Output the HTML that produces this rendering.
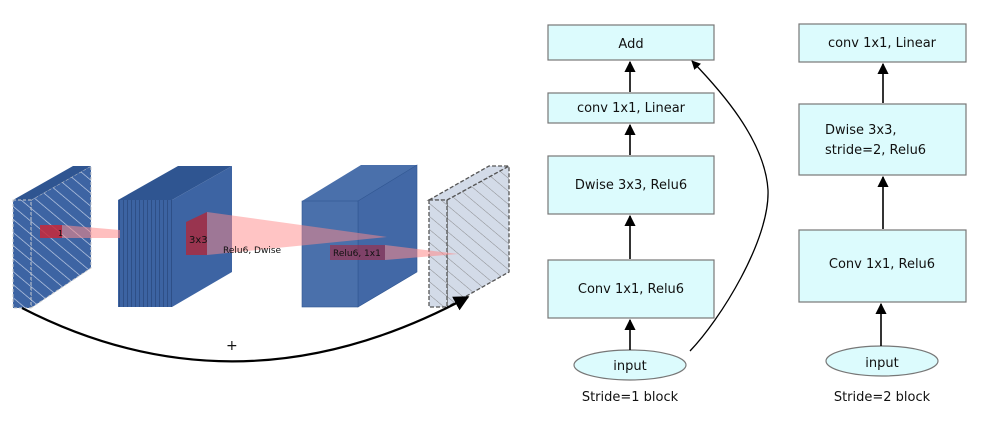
<!DOCTYPE html>
<html><head><meta charset="utf-8"><style>
body{margin:0;background:#fff}
svg{display:block}
text{font-family:"DejaVu Sans","Liberation Sans",sans-serif;fill:#111}
</style></head><body>
<svg width="986" height="429" viewBox="0 0 986 429" xmlns="http://www.w3.org/2000/svg">
<defs>
<pattern id="h1" width="10" height="10" patternUnits="userSpaceOnUse" patternTransform="rotate(-50)">
<rect width="10" height="10" fill="#3d64a3"/><line x1="0" y1="0" x2="0" y2="10" stroke="#c8d4ea" stroke-width="1.3"/></pattern>
<pattern id="h2" width="10" height="10" patternUnits="userSpaceOnUse" patternTransform="rotate(-50)">
<rect width="10" height="10" fill="#d3dbe8"/><line x1="0" y1="0" x2="0" y2="10" stroke="#777" stroke-width="0.8"/></pattern>
<pattern id="stk" width="4" height="10" patternUnits="userSpaceOnUse">
<rect width="4" height="10" fill="#3c63a2"/><line x1="3.5" y1="0" x2="3.5" y2="10" stroke="#2a4a80" stroke-width="0.8"/></pattern>
<marker id="ar" viewBox="0 0 10 10" refX="9" refY="5" markerWidth="7" markerHeight="8" orient="auto"><path d="M0,0 L10,5 L0,10 z" fill="#000"/></marker>
</defs>
<!-- slab 1 -->
<polygon points="31,200 91,166 91,268 31,308" fill="url(#h1)" stroke="#ccc" stroke-dasharray="3,2"/>
<polygon points="13,200 73,166 91,166 31,200" fill="#2f5591"/>
<rect x="13" y="200" width="18" height="108" fill="url(#h1)" stroke="#ccc" stroke-dasharray="3,2"/>
<!-- block 2 -->
<polygon points="118,200 178,166 232,166 172,200" fill="#2f5591"/>
<polygon points="172,200 232,166 232,272 172,307" fill="#3d64a3"/>
<rect x="118" y="200" width="54" height="107" fill="url(#stk)"/>
<!-- block 3 -->
<polygon points="302,201 361,165 417,165 358,201" fill="#4a70ab"/>
<polygon points="358,201 417,165 417,272 358,307" fill="#4268a6" stroke="#2f5591" stroke-width="0.6"/>
<rect x="302" y="201" width="56" height="106" fill="#4a70ab" stroke="#2f5591" stroke-width="0.6"/>
<!-- slab 4 -->
<polygon points="447,200 509,166 509,272 447,307" fill="url(#h2)" stroke="#555" stroke-dasharray="4,2" stroke-width="1.3"/>
<polygon points="429,200 489,166 509,166 447,200" fill="#d3dbe8" stroke="#555" stroke-dasharray="4,2" stroke-width="1.3"/>
<rect x="429" y="200" width="18" height="107" fill="url(#h2)" stroke="#555" stroke-dasharray="4,2" stroke-width="1.3"/>
<!-- red projections -->
<polygon points="62,225 120,230 120,238 62,238" fill="#ff8a8a" opacity="0.55"/>
<rect x="40" y="225" width="22" height="13" fill="#c8283a" opacity="0.85"/>
<text x="58" y="236" font-size="8">1</text>
<polygon points="207,212 387,237 207,255" fill="#ff8a8a" opacity="0.5"/>
<polygon points="186,222 207,212 207,255 186,255" fill="#b0283a" opacity="0.8"/>
<text x="189" y="243" font-size="10">3x3</text>
<text x="223" y="253" font-size="9">Relu6, Dwise</text>
<polygon points="385,245 458,254 385,260" fill="#ff8a8a" opacity="0.55"/>
<rect x="330" y="245" width="55" height="15" fill="#a8283f" opacity="0.6"/>
<text x="333" y="256" font-size="9">Relu6, 1x1</text>
<!-- skip curve -->
<path d="M22,308 Q240,420 468,297" fill="none" stroke="#000" stroke-width="2.2" marker-end="url(#ar)"/>
<text x="226" y="350" font-size="14" fill="#555">+</text>

<!-- stride 1 -->
<g stroke="#777" stroke-width="1.2" fill="#dcfbfd">
<rect x="548" y="25" width="166" height="35"/>
<rect x="548" y="93" width="166" height="30"/>
<rect x="548" y="156" width="166" height="58"/>
<rect x="548" y="260" width="166" height="58"/>
<ellipse cx="630" cy="365" rx="56" ry="15"/>
<rect x="799" y="24" width="167" height="38"/>
<rect x="799" y="104" width="167" height="71"/>
<rect x="799" y="230" width="167" height="72"/>
<ellipse cx="882" cy="361" rx="56" ry="15"/>
</g>
<g stroke="#000" stroke-width="1.6" marker-end="url(#ar)">
<line x1="630" y1="350" x2="630" y2="320"/>
<line x1="630" y1="259" x2="630" y2="216"/>
<line x1="630" y1="155" x2="630" y2="125"/>
<line x1="630" y1="92" x2="630" y2="62"/>
<line x1="881" y1="346" x2="881" y2="304"/>
<line x1="883" y1="229" x2="883" y2="177"/>
<line x1="883" y1="103" x2="883" y2="64"/>
</g>
<path d="M690,351 C720,320 770,240 768,190 C765,140 720,90 692,61" fill="none" stroke="#000" stroke-width="1.3" marker-end="url(#ar)"/>
<g font-size="13" text-anchor="middle">
<text x="631" y="48">Add</text>
<text x="631" y="112">conv 1x1, Linear</text>
<text x="631" y="189">Dwise 3x3, Relu6</text>
<text x="631" y="293">Conv 1x1, Relu6</text>
<text x="630" y="370">input</text>
<text x="630" y="401">Stride=1 block</text>
<text x="882" y="47">conv 1x1, Linear</text>
<text x="882" y="268">Conv 1x1, Relu6</text>
<text x="882" y="367">input</text>
<text x="882" y="401">Stride=2 block</text>
</g>
<g font-size="13">
<text x="825" y="134">Dwise 3x3,</text>
<text x="825" y="154">stride=2, Relu6</text>
</g>
</svg>
</body></html>
